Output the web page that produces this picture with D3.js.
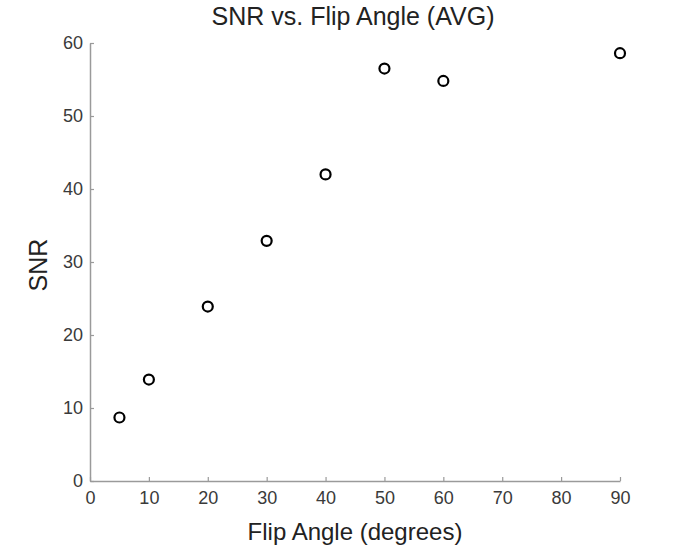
<!DOCTYPE html>
<html>
<head>
<meta charset="utf-8">
<title>SNR vs. Flip Angle (AVG)</title>
<script src="https://cdn.jsdelivr.net/npm/d3@7"></script>
<style>
  body { margin: 0; background: #fff; }
  svg { font-family: "Liberation Sans", Arial, sans-serif; }
</style>
</head>
<body>
<div id="chart"></div>
<script>
// data
var flipAngles = [5, 10, 20, 30, 40, 50, 60, 90];
var snrValues = [8.7, 13.9, 23.9, 32.9, 42.0, 56.5, 54.8, 58.6];
var xTicks = [0, 10, 20, 30, 40, 50, 60, 70, 80, 90];
var yTicks = [0, 10, 20, 30, 40, 50, 60];

var width = 685, height = 548;
var margin = { top: 43, right: 65, bottom: 67, left: 90 };

var svg = d3.select('#chart').append('svg')
  .attr('width', width).attr('height', height);

var x = d3.scaleLinear().domain([0, 90]).range([margin.left, width - margin.right]);
var y = d3.scaleLinear().domain([0, 60]).range([height - margin.bottom, margin.top]);

// axes, ticks point inward like the original
var xAxis = svg.append('g')
  .attr('transform', 'translate(0,' + (height - margin.bottom) + ')')
  .call(d3.axisBottom(x).tickValues(xTicks).tickSizeInner(-4).tickSizeOuter(0).tickPadding(10));
var yAxis = svg.append('g')
  .attr('transform', 'translate(' + margin.left + ',0)')
  .call(d3.axisLeft(y).tickValues(yTicks).tickSizeInner(-4).tickSizeOuter(0).tickPadding(7));

[xAxis, yAxis].forEach(function(a){
  a.select('.domain').attr('stroke', '#9a9a9a').attr('stroke-width', 1.5);
  a.selectAll('.tick line').attr('stroke', '#9a9a9a').attr('stroke-width', 1.2);
  a.selectAll('.tick text').attr('fill', '#3a3a3a').style('font-size', '18px');
});

svg.append('text')
  .attr('x', 353).attr('y', 25)
  .attr('text-anchor', 'middle')
  .style('font-size', '25px').attr('fill', '#222')
  .text('SNR vs. Flip Angle (AVG)');

svg.append('text')
  .attr('x', (x(0) + x(90)) / 2).attr('y', 540)
  .attr('text-anchor', 'middle')
  .style('font-size', '24px').attr('fill', '#222')
  .text('Flip Angle (degrees)');

svg.append('text')
  .attr('transform', 'translate(47,265) rotate(-90)')
  .attr('text-anchor', 'middle')
  .style('font-size', '25px').attr('fill', '#222')
  .text('SNR');

svg.append('g').selectAll('circle')
  .data(flipAngles)
  .enter().append('circle')
  .attr('cx', function(d){ return x(d); })
  .attr('cy', function(d, i){ return y(snrValues[i]); })
  .attr('r', 5)
  .attr('fill', 'none')
  .attr('stroke', '#000')
  .attr('stroke-width', 2.2);
</script>
</body>
</html>
